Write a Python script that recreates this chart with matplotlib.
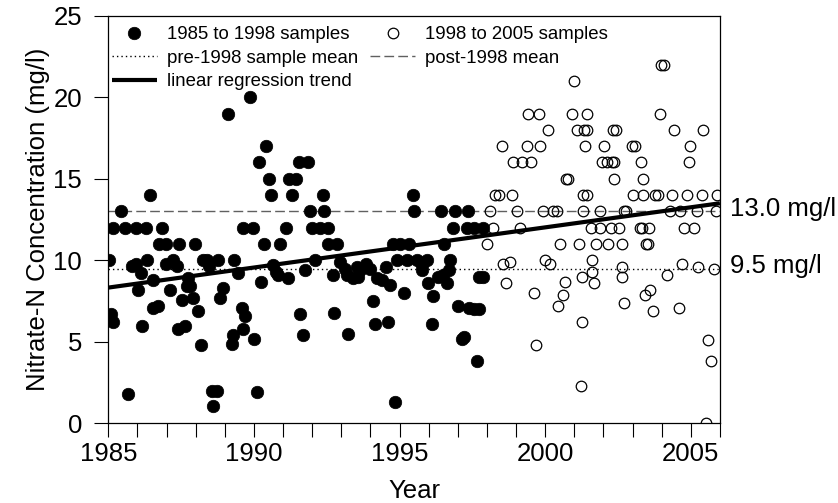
import numpy as np
import matplotlib
matplotlib.use("Agg")
import matplotlib.pyplot as plt
from matplotlib.ticker import MultipleLocator

plt.rcParams['font.family'] = ['Liberation Sans', 'DejaVu Sans']

# samples collected 1985 to 1998 (filled)
pre_years = [1989.10, 1989.86, 1990.43, 1990.18, 1990.53, 1990.58, 1986.43, 1985.43,
             1991.56, 1991.87, 1991.19, 1991.44, 1991.32, 1992.36, 1995.45,
             1991.93, 1992.42, 1995.51, 1996.43, 1996.91, 1997.36,
             1985.17, 1985.57, 1985.95, 1986.29, 1986.83, 1989.62, 1989.96, 1991.10,
             1991.98, 1992.27, 1992.55, 1996.85, 1997.31, 1997.57, 1997.86,
             1986.75, 1986.98, 1987.44, 1987.98, 1990.35, 1990.90, 1992.55, 1992.86,
             1994.77, 1995.02, 1995.34, 1996.54,
             1985.03, 1986.34, 1986.99, 1987.23, 1987.37, 1988.26, 1988.38, 1988.47,
             1988.78, 1989.32, 1989.44, 1985.80, 1985.95, 1986.11, 1990.67, 1990.75, 1990.84,
             1992.10, 1994.90, 1995.25, 1995.59, 1995.93, 1996.73,
             1991.18, 1991.75, 1992.73, 1992.96, 1993.13, 1993.21, 1993.39, 1993.59,
             1993.64, 1993.85, 1993.99, 1993.53, 1994.24, 1994.39, 1994.54, 1994.67,
             1995.76, 1995.76, 1995.99, 1996.16, 1996.33, 1996.48, 1996.62, 1996.71,
             1997.72, 1997.85,
             1986.55, 1986.01, 1987.12, 1987.75, 1987.70, 1987.81, 1987.52, 1987.92,
             1986.55, 1986.70, 1988.09, 1988.84, 1988.95, 1985.09, 1985.17, 1986.17,
             1987.40, 1987.63, 1988.17, 1989.58, 1989.69, 1989.62, 1989.24, 1989.27,
             1990.01, 1990.24, 1985.69, 1988.55, 1988.72, 1988.61, 1990.10,
             1991.58, 1991.68, 1992.75, 1993.24, 1994.10, 1994.16, 1994.60, 1995.15,
             1996.11, 1997.02, 1997.14, 1997.22, 1997.40, 1997.55, 1997.72, 1994.85, 1997.65]
pre_no3 = [19, 20, 17, 16, 15, 14, 14, 13,
           16, 16, 15, 15, 14, 14, 14,
           13, 13, 13, 13, 13, 13,
           12, 12, 12, 12, 12, 12, 12, 12,
           12, 12, 12, 12, 12, 12, 12,
           11, 11, 11, 11, 11, 11, 11, 11,
           11, 11, 11, 11,
           10, 10, 9.8, 10, 9.66, 10, 10, 9.66,
           10, 10, 9.2, 9.66, 9.78, 9.2, 9.7, 9.3, 9.1,
           10, 10, 10, 10, 10, 10,
           8.9, 9.4, 9.1, 9.9, 9.5, 9.1, 8.9, 9.0,
           9.4, 9.8, 9.5, 9.6, 8.9, 8.8, 9.6, 8.5,
           9.7, 9.4, 8.6, 7.8, 9.0, 9.1, 8.6, 9.4,
           9.0, 9.0,
           8.8, 8.2, 8.2, 8.9, 8.4, 8.4, 7.6, 7.7,
           7.1, 7.2, 6.9, 7.7, 8.3, 6.7, 6.2, 6.0,
           5.8, 6.0, 4.8, 7.1, 6.6, 5.8, 4.9, 5.4,
           5.2, 8.7, 1.8, 2.0, 2.0, 1.1, 1.9,
           6.7, 5.4, 6.8, 5.5, 7.5, 6.1, 6.2, 8.0,
           6.1, 7.2, 5.2, 5.3, 7.1, 7.0, 7.0, 1.3, 3.8]

# samples collected 1998 to 2005 (open)
post_years = [2003.98, 2004.08, 2001.00,
              1999.42, 1999.80, 2000.91, 2001.43, 2003.95,
              2000.11, 2001.09, 2001.35, 2001.45, 2002.32, 2002.42, 2004.43, 2005.43,
              1998.51, 1999.37, 1999.82, 2001.37, 2002.03, 2002.98, 2003.08, 2004.98,
              1998.91, 1999.20, 1999.51, 2001.94, 2002.12, 2002.28, 2002.36, 2003.28, 2004.95,
              2000.70, 2000.78, 2002.37, 2003.35,
              1998.28, 1998.40, 1998.85, 2001.30, 2001.45, 2003.01, 2003.37, 2003.78,
              2003.88, 2004.35, 2004.86, 2005.38, 2005.89,
              1998.11, 1999.02, 1999.94, 2000.28, 2000.40, 2001.31, 2001.89, 2002.70,
              2002.78, 2004.29, 2004.64, 2005.21, 2005.87,
              1998.20, 1999.14, 2001.57, 2001.89, 2002.25, 2002.55, 2003.25, 2003.33,
              2003.58, 2004.77, 2005.11,
              1998.02, 2000.51, 2001.17, 2001.75, 2002.17, 2002.63, 2003.45, 2003.53,
              1998.56, 1998.79, 2000.00, 2000.17, 2001.60, 2002.63, 2004.69, 2005.26,
              2005.78, 1998.66, 1999.60, 2000.68, 2000.62, 2000.43, 2001.26, 2001.60,
              2001.68, 2002.63, 2002.71, 2003.43, 2003.60, 2003.69, 2004.20, 2004.61,
              2001.26, 1999.69, 2005.60, 2005.69, 2001.22, 2005.53]
post_no3 = [22, 22, 21,
            19, 19, 19, 19, 19,
            18, 18, 18, 18, 18, 18, 18, 18,
            17, 17, 17, 17, 17, 17, 17, 17,
            16, 16, 16, 16, 16, 16, 16, 16, 16,
            15, 15, 15, 15,
            14, 14, 14, 14, 14, 14, 14, 14,
            14, 14, 14, 14, 14,
            13, 13, 13, 13, 13, 13, 13, 13,
            13, 13, 13, 13, 13,
            12, 12, 12, 12, 12, 12, 12, 12,
            12, 12, 12,
            11, 11, 11, 11, 11, 11, 11, 11,
            9.8, 9.9, 10.0, 9.8, 10.0, 9.6, 9.8, 9.6,
            9.5, 8.6, 8.0, 8.7, 7.9, 7.2, 9.0, 9.3,
            8.6, 9.0, 7.4, 7.9, 8.2, 6.9, 9.1, 7.1,
            6.2, 4.8, 5.1, 3.8, 2.3, 0.0]

pre_mean = 9.5
post_mean = 13.0
trend_years = [1985, 2006]
trend_vals = [8.33, 13.5]

fig = plt.figure(figsize=(8.38, 5.03), dpi=100)
ax = fig.add_axes([0.1292, 0.1581, 0.7299, 0.8107])

ax.axhline(pre_mean, color='black', lw=1.0, ls=(0, (1, 2.2)), zorder=1,
           label='pre-1998 sample mean')
ax.axhline(post_mean, color='#606060', lw=1.0, ls=(0, (7, 3)), zorder=1,
           label='post-1998 mean')
ax.plot(pre_years, pre_no3, 'o', ms=9, mfc='black', mec='black', mew=0.5,
        ls='none', zorder=3, label='1985 to 1998 samples')
ax.plot(post_years, post_no3, 'o', ms=7.6, mfc='none', mec='black', mew=0.9,
        ls='none', zorder=3, label='1998 to 2005 samples')
ax.plot(trend_years, trend_vals, color='black', lw=3, zorder=4,
        solid_capstyle='butt', label='linear regression trend')

ax.set_xlim(1985, 2006)
ax.set_ylim(0, 25)
ax.xaxis.set_major_locator(MultipleLocator(5))
ax.xaxis.set_minor_locator(MultipleLocator(1))
ax.yaxis.set_major_locator(MultipleLocator(5))
ax.tick_params(axis='both', which='both', direction='out', length=10, width=0.8,
               labelsize=18.5, top=False, right=False)
ax.tick_params(axis='x', pad=3)
ax.tick_params(axis='y', pad=9)
for s in ax.spines.values():
    s.set_linewidth(0.9)

ax.set_xlabel('Year', fontsize=18.5, labelpad=10)
ax.set_ylabel('Nitrate-N Concentration (mg/l)', fontsize=18.5, labelpad=2)

# mean values written beside the right spine
ax.annotate(f'{post_mean:.1f} mg/l', xy=(2006, post_mean), xytext=(7, 2),
            textcoords='offset points', va='center', ha='left',
            fontsize=18.5, annotation_clip=False)
ax.annotate(f'{pre_mean:.1f} mg/l', xy=(2006, pre_mean), xytext=(7, 2),
            textcoords='offset points', va='center', ha='left',
            fontsize=18.5, annotation_clip=False)

h, l = ax.get_legend_handles_labels()
order = [2, 0, 4, 3, 1]
ax.legend([h[i] for i in order], [l[i] for i in order], ncol=2, loc='upper left',
          bbox_to_anchor=(0.0, 0.983), frameon=False, fontsize=13.4,
          handlelength=2.4, handletextpad=0.55, columnspacing=0.65,
          labelspacing=0.34, borderpad=0.0, borderaxespad=0.2)

fig.savefig('out.png', dpi=100)
